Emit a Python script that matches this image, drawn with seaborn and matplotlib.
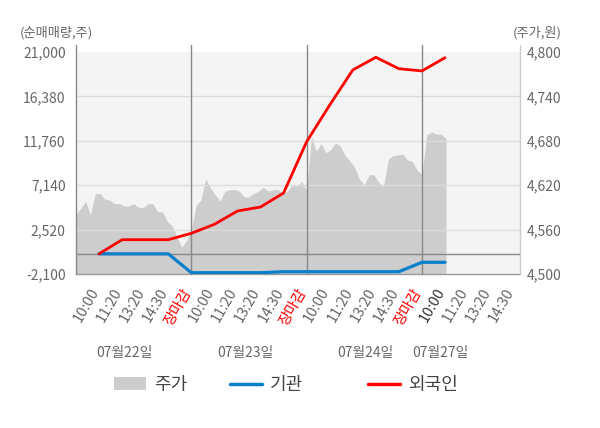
import numpy as np
import pandas as pd
import matplotlib
matplotlib.use("Agg")
import matplotlib.pyplot as plt
import seaborn as sns
from matplotlib.patches import Patch
from matplotlib.lines import Line2D

# ---------------- data ----------------
days = ["07월22일", "07월23일", "07월24일", "07월27일"]
time_labels = ["10:00", "11:20", "13:20", "14:30", "장마감"]

# stock price (원), sampled evenly through each session
price_day1 = [4580, 4589, 4598, 4580, 4608, 4609, 4601, 4600, 4595, 4595, 4592, 4592,
              4595, 4590, 4590, 4595, 4595, 4584, 4584, 4571, 4565, 4551, 4536, 4545]
price_day2 = [4560, 4593, 4600, 4629, 4616, 4607, 4598, 4612, 4614, 4614, 4612, 4604,
              4604, 4609, 4612, 4617, 4612, 4614, 4614, 4609, 4612, 4620, 4619, 4625]
price_day3 = [4612, 4686, 4666, 4676, 4664, 4668, 4677, 4673, 4660, 4653, 4644, 4628,
              4620, 4634, 4634, 4624, 4618, 4655, 4660, 4661, 4662, 4654, 4652, 4640]
price_day4 = [4635, 4688, 4692, 4689, 4689, 4683]

# cumulative net buying (주) at each time label
foreign_net = [0, 1470, 1470, 1470, 2135, 3070, 4455, 4870, 6330, 11667,
               15485, 19130, 20450, 19260, 19030, 20410]
institution_net = [0, 0, 0, 0, -1965, -1965, -1965, -1965, -1860, -1860,
                   -1860, -1860, -1860, -1860, -883, -883]

left_ticks = [-2100, 2520, 7140, 11760, 16380, 21000]
right_ticks = [4500, 4560, 4620, 4680, 4740, 4800]

# ---------------- build tables ----------------
SLOTS_PER_DAY = 5
SAMPLES_PER_DAY = 24
price_days = [price_day1, price_day2, price_day3, price_day4]
px, py = [], []
for d, arr in enumerate(price_days):
    for i, v in enumerate(arr):
        px.append(d * SLOTS_PER_DAY + i * SLOTS_PER_DAY / SAMPLES_PER_DAY)
        py.append(v)
price_df = pd.DataFrame({"t": px, "price": py})

flow_df = pd.DataFrame({
    "t": np.arange(1, len(foreign_net) + 1),
    "외국인": foreign_net,
    "기관": institution_net,
})

# ---------------- style ----------------
sns.set_theme(style="white")
plt.rcParams["font.family"] = ["Noto Sans CJK KR", "DejaVu Sans"]

RED = "#ff0000"
BLUE = "#0a7fcc"
AREA = "#cdcdcd"
TXT = "#666666"

fig = plt.figure(figsize=(6.0, 4.28), dpi=100)
W, H = 600, 428
ax = fig.add_axes([76 / W, 1 - 274 / H, 444 / W, 222 / H])
ax.set_facecolor("#f4f4f4")
ax2 = ax.twinx()

XMAX = 19.25
ax.set_xlim(0, XMAX)
ax.set_ylim(right_ticks[0], right_ticks[-1])
ax2.set_ylim(left_ticks[0], left_ticks[-1])

# price area
ax.fill_between(price_df["t"], right_ticks[0], price_df["price"], color=AREA,
                linewidth=0, zorder=1)

# gridlines over the area
for t in right_ticks[1:-1]:
    ax.axhline(t, color="#dcdcdc", lw=1, zorder=2)

# day separators and side lines (extend a little above the plot)
for b in [5, 10, 15]:
    ax.axvline(b, ymin=0, ymax=1.032, color="#888888", lw=1, clip_on=False, zorder=3)
ax.axvline(0, ymin=0, ymax=1.032, color="#888888", lw=1, clip_on=False, zorder=3)
ax.axvline(XMAX, ymin=0, ymax=1.032, color="#cccccc", lw=1, clip_on=False, zorder=3)

# zero line of net-buy axis
ax2.axhline(0, color="#888888", lw=1, zorder=1)

# lines
sns.lineplot(data=flow_df, x="t", y="기관", ax=ax2, color=BLUE, lw=2.3, zorder=4)
sns.lineplot(data=flow_df, x="t", y="외국인", ax=ax2, color=RED, lw=2.0, zorder=5)
ax2.set_xlabel("")
ax2.set_ylabel("")
ax.set_xlabel("")
ax.set_ylabel("")

# spines
for s in ["left", "right", "top"]:
    ax.spines[s].set_visible(False)
for s in ax2.spines.values():
    s.set_visible(False)
ax.spines["bottom"].set_color("#999999")
ax.spines["bottom"].set_linewidth(1)

# y ticks
ax.yaxis.tick_right()
ax.set_yticks(right_ticks)
ax.set_yticklabels([f"{v:,}" for v in right_ticks])
ax.tick_params(axis="y", length=0, pad=5, labelsize=10, labelcolor=TXT)

ax2.yaxis.tick_left()
ax2.set_yticks(left_ticks)
ax2.set_yticklabels([f"{v:,}" for v in left_ticks])
ax2.tick_params(axis="y", length=0, pad=7.5, labelsize=10, labelcolor=TXT)

# x ticks
ax.xaxis.remove_overlapping_locs = False
ax.set_xticks([0, 5, 10, 15, XMAX])
ax.set_xticklabels([""] * 5)
ax.tick_params(axis="x", which="major", length=4, width=1, color="#999999")

minor_pos, minor_lab = [], []
for d in range(len(days)):
    labs = time_labels if d < len(days) - 1 else time_labels[:-1]
    for k, lab in enumerate(labs):
        minor_pos.append(d * SLOTS_PER_DAY + k + 1)
        minor_lab.append(lab)
ax.set_xticks(minor_pos, minor=True)
ax.set_xticklabels(minor_lab, minor=True, rotation=60, ha="right", va="baseline",
                   rotation_mode="anchor", fontsize=10.5, color=TXT)
ax.tick_params(axis="x", which="minor", length=0, pad=12.5)
for i, tl in enumerate(ax.get_xticklabels(minor=True)):
    if minor_lab[i] == "장마감":
        tl.set_color(RED)
    if minor_pos[i] == 16:
        tl.set_color("#333333")

# date labels
date_pos = [2.12, 7.33, 12.53, 15.8]
for xp, lab in zip(date_pos, days):
    ax.text(xp, -0.356, lab, transform=ax.get_xaxis_transform(), ha="center",
            va="center", fontsize=10, color=TXT)

# axis titles
fig.text(20 / W, 1 - 33 / H, "(순매매량,주)", ha="left", va="center", fontsize=9.5, color=TXT)
fig.text(562 / W, 1 - 33 / H, "(주가,원)", ha="right", va="center", fontsize=9.5, color=TXT)

# legend (three entries placed along the bottom)
entries = [
    (Patch(facecolor=AREA, edgecolor="none"), "주가", 114),
    (Line2D([], [], color=BLUE, lw=2.5), "기관", 230),
    (Line2D([], [], color=RED, lw=2.5), "외국인", 368),
]
for h, lab, xp in entries:
    lg = fig.legend([h], [lab], loc="center left", bbox_to_anchor=(xp / W, 1 - 385 / H),
                    frameon=False, fontsize=13, borderpad=0, borderaxespad=0,
                    handlelength=1.75, handleheight=0.75, handletextpad=0.45)
    for t in lg.get_texts():
        t.set_color("#444444")

fig.savefig("out.png", dpi=100)
